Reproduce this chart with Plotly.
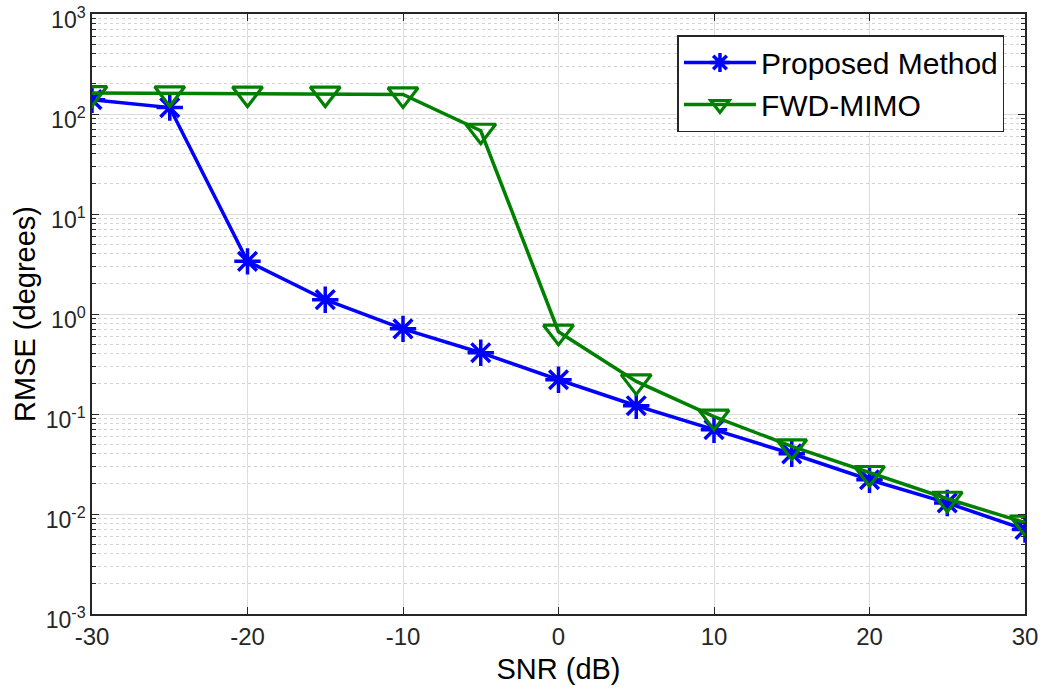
import plotly.graph_objects as go

snr = [-30, -25, -20, -15, -10, -5, 0, 5, 10, 15, 20, 25, 30]
proposed = [139, 116, 3.36, 1.39, 0.71, 0.41, 0.22, 0.121, 0.0697, 0.040, 0.022, 0.0129, 0.0070]
fwd_mimo = [162, 161, 160, 160, 157, 68, 0.665, 0.212, 0.094, 0.0475, 0.0257, 0.0142, 0.0082]

x_tickvals = [-30, -20, -10, 0, 10, 20, 30]
x_ticktext = ["-30", "-20", "-10", "0", "10", "20", "30"]
y_tickvals = [1e-3, 1e-2, 1e-1, 1e0, 1e1, 1e2, 1e3]
y_ticktext = ["10<sup>-3</sup>", "10<sup>-2</sup>", "10<sup>-1</sup>", "10<sup>0</sup>",
              "10<sup>1</sup>", "10<sup>2</sup>", "10<sup>3</sup>"]

font_family = "Liberation Sans, Arial, sans-serif"

fig = go.Figure()
fig.add_trace(go.Scatter(
    x=snr, y=proposed, mode="lines+markers", name="Proposed Method",
    line=dict(color="#0000ff", width=3.5),
    marker=dict(symbol="asterisk-open", size=22, color="#0000ff",
                line=dict(color="#0000ff", width=3.5)),
))
fig.add_trace(go.Scatter(
    x=snr, y=fwd_mimo, mode="lines+markers", name="FWD-MIMO",
    line=dict(color="#008000", width=3.5),
    marker=dict(symbol="triangle-down-open", size=26, color="#008000",
                line=dict(color="#008000", width=3.2)),
))

fig.update_layout(
    width=1044, height=695,
    margin=dict(l=92, r=19, t=14, b=81, autoexpand=False),
    paper_bgcolor="white", plot_bgcolor="white",
    font=dict(family=font_family, color="#262626", size=19),
    legend=dict(
        x=0.978, y=0.965, xanchor="right", yanchor="top",
        bgcolor="white", bordercolor="#262626", borderwidth=1.5,
        font=dict(size=30, color="black", family=font_family),
        tracegroupgap=0, itemwidth=72,
    ),
    showlegend=True,
)
fig.update_xaxes(
    range=[-30, 30], tickmode="array", tickvals=x_tickvals, ticktext=x_ticktext,
    automargin=False, ticklabeloverflow="allow",
    showgrid=True, gridcolor="#dcdcdc", gridwidth=1,
    showline=True, linecolor="#262626", linewidth=1.5, mirror="allticks",
    ticks="inside", ticklen=7, tickcolor="#262626",
    zeroline=False,
    title=dict(text="SNR (dB)", font=dict(size=29, color="black"), standoff=10),
    tickfont=dict(family=font_family, size=24, color="#262626"),
)
fig.update_yaxes(
    type="log", range=[-3, 3], tickmode="array", tickvals=y_tickvals, ticktext=y_ticktext,
    automargin=False, ticklabeloverflow="allow", ticklabelshift=6,
    showgrid=True, gridcolor="#dcdcdc", gridwidth=1,
    showline=True, linecolor="#262626", linewidth=1.5, mirror="allticks",
    ticks="inside", ticklen=7, tickcolor="#262626",
    zeroline=False,
    minor=dict(dtick="D1", showgrid=True, gridcolor="#d2d2d2", griddash="dot",
               gridwidth=1, ticks="inside", ticklen=4, tickcolor="#262626"),
    title=dict(text="RMSE (degrees)", font=dict(size=29, color="black"), standoff=2),
    tickfont=dict(family=font_family, size=23, color="#262626"),
)

fig.write_html("out.html")
